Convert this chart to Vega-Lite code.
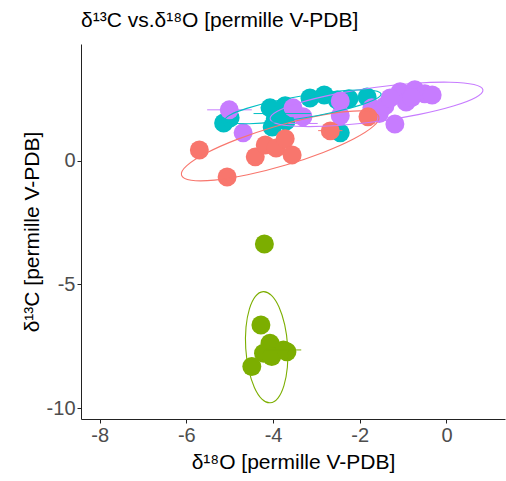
{
  "$schema": "https://vega.github.io/schema/vega-lite/v6.json",
  "autosize": "none",
  "width": 424,
  "height": 375,
  "padding": {"left": 81, "top": 44, "right": 1, "bottom": 62},
  "background": "white",
  "title": {"text": "δ¹³C vs.δ¹⁸O [permille V-PDB]", "anchor": "start", "frame": "group", "fontSize": 21, "font": "Liberation Sans", "fontWeight": "normal", "color": "black", "offset": 13},
  "config": {
    "view": {"stroke": null},
    "axis": {"grid": false, "domainColor": "#222", "tickColor": "#222", "tickSize": 4, "labelColor": "#4D4D4D", "labelFontSize": 20, "labelFont": "Liberation Sans", "titleFont": "Liberation Sans", "titleFontSize": 21, "titleFontWeight": "normal", "titleColor": "black", "labelPadding": 2}
  },
  "datasets": {
    "pts": [
      {"g": "B", "d18O": -4.20, "d13C": -3.37},
      {"g": "B", "d18O": -4.28, "d13C": -6.64},
      {"g": "B", "d18O": -4.07, "d13C": -7.38},
      {"g": "B", "d18O": -3.76, "d13C": -7.65},
      {"g": "B", "d18O": -4.22, "d13C": -7.78},
      {"g": "B", "d18O": -4.49, "d13C": -8.32},
      {"g": "B", "d18O": -4.03, "d13C": -7.92},
      {"g": "B", "d18O": -3.68, "d13C": -7.72},
      {"g": "C", "d18O": -5.14, "d13C": 1.52},
      {"g": "C", "d18O": -4.99, "d13C": 1.73},
      {"g": "C", "d18O": -4.07, "d13C": 2.13},
      {"g": "C", "d18O": -3.79, "d13C": 1.93},
      {"g": "C", "d18O": -3.72, "d13C": 2.22},
      {"g": "C", "d18O": -3.95, "d13C": 1.68},
      {"g": "C", "d18O": -4.02, "d13C": 1.36},
      {"g": "C", "d18O": -3.70, "d13C": 1.60},
      {"g": "C", "d18O": -3.15, "d13C": 2.53},
      {"g": "C", "d18O": -2.82, "d13C": 2.65},
      {"g": "C", "d18O": -2.52, "d13C": 2.45},
      {"g": "C", "d18O": -2.25, "d13C": 2.50},
      {"g": "C", "d18O": -1.83, "d13C": 2.57},
      {"g": "C", "d18O": -2.45, "d13C": 1.12},
      {"g": "D", "d18O": -5.01, "d13C": 2.05},
      {"g": "D", "d18O": -4.69, "d13C": 1.12},
      {"g": "D", "d18O": -3.54, "d13C": 2.13},
      {"g": "D", "d18O": -3.31, "d13C": 1.77},
      {"g": "D", "d18O": -2.45, "d13C": 2.41},
      {"g": "D", "d18O": -2.45, "d13C": 1.81},
      {"g": "D", "d18O": -1.72, "d13C": 2.13},
      {"g": "D", "d18O": -1.55, "d13C": 1.90},
      {"g": "D", "d18O": -1.42, "d13C": 2.21},
      {"g": "D", "d18O": -1.19, "d13C": 1.48},
      {"g": "D", "d18O": -1.07, "d13C": 2.78},
      {"g": "D", "d18O": -0.73, "d13C": 2.86},
      {"g": "D", "d18O": -0.50, "d13C": 2.70},
      {"g": "D", "d18O": -0.33, "d13C": 2.65},
      {"g": "D", "d18O": -0.93, "d13C": 2.37},
      {"g": "D", "d18O": -0.80, "d13C": 2.55},
      {"g": "D", "d18O": -1.30, "d13C": 2.53},
      {"g": "A", "d18O": -5.70, "d13C": 0.43},
      {"g": "A", "d18O": -5.06, "d13C": -0.66},
      {"g": "A", "d18O": -4.41, "d13C": 0.15},
      {"g": "A", "d18O": -4.18, "d13C": 0.63},
      {"g": "A", "d18O": -3.93, "d13C": 0.51},
      {"g": "A", "d18O": -3.72, "d13C": 0.88},
      {"g": "A", "d18O": -3.56, "d13C": 0.23},
      {"g": "A", "d18O": -2.68, "d13C": 1.20},
      {"g": "A", "d18O": -1.81, "d13C": 1.77}
    ],
    "err": [
      {"g": "D", "lo": -5.52, "hi": -4.49, "d13C": 2.05},
      {"g": "B", "lo": -4.17, "hi": -3.35, "d13C": -7.65},
      {"g": "A", "lo": -2.96, "hi": -2.40, "d13C": 1.21},
      {"g": "C", "lo": -4.45, "hi": -3.13, "d13C": 1.90},
      {"g": "D", "lo": -3.65, "hi": -2.97, "d13C": 1.50}
    ],
    "ell": [
      {"g": "A", "i": 0, "x": -1.560, "y": 1.778},
      {"g": "A", "i": 1, "x": -1.683, "y": 1.391},
      {"g": "A", "i": 2, "x": -2.134, "y": 0.883},
      {"g": "A", "i": 3, "x": -2.843, "y": 0.331},
      {"g": "A", "i": 4, "x": -3.705, "y": -0.181},
      {"g": "A", "i": 5, "x": -4.587, "y": -0.575},
      {"g": "A", "i": 6, "x": -5.352, "y": -0.791},
      {"g": "A", "i": 7, "x": -5.889, "y": -0.797},
      {"g": "A", "i": 8, "x": -6.112, "y": -0.590},
      {"g": "A", "i": 9, "x": -5.989, "y": -0.203},
      {"g": "A", "i": 10, "x": -5.538, "y": 0.305},
      {"g": "A", "i": 11, "x": -4.829, "y": 0.857},
      {"g": "A", "i": 12, "x": -3.967, "y": 1.369},
      {"g": "A", "i": 13, "x": -3.085, "y": 1.763},
      {"g": "A", "i": 14, "x": -2.320, "y": 1.979},
      {"g": "A", "i": 15, "x": -1.783, "y": 1.985},
      {"g": "D", "i": 0, "x": 0.841, "y": 2.857},
      {"g": "D", "i": 1, "x": 0.675, "y": 2.551},
      {"g": "D", "i": 2, "x": 0.159, "y": 2.204},
      {"g": "D", "i": 3, "x": -0.624, "y": 1.866},
      {"g": "D", "i": 4, "x": -1.560, "y": 1.590},
      {"g": "D", "i": 5, "x": -2.504, "y": 1.418},
      {"g": "D", "i": 6, "x": -3.311, "y": 1.376},
      {"g": "D", "i": 7, "x": -3.861, "y": 1.469},
      {"g": "D", "i": 8, "x": -4.067, "y": 1.685},
      {"g": "D", "i": 9, "x": -3.901, "y": 1.991},
      {"g": "D", "i": 10, "x": -3.385, "y": 2.338},
      {"g": "D", "i": 11, "x": -2.602, "y": 2.676},
      {"g": "D", "i": 12, "x": -1.666, "y": 2.952},
      {"g": "D", "i": 13, "x": -0.722, "y": 3.124},
      {"g": "D", "i": 14, "x": 0.085, "y": 3.166},
      {"g": "D", "i": 15, "x": 0.635, "y": 3.073},
      {"g": "C", "i": 0, "x": -1.509, "y": 2.695},
      {"g": "C", "i": 1, "x": -1.630, "y": 2.487},
      {"g": "C", "i": 2, "x": -2.006, "y": 2.231},
      {"g": "C", "i": 3, "x": -2.579, "y": 1.966},
      {"g": "C", "i": 4, "x": -3.264, "y": 1.732},
      {"g": "C", "i": 5, "x": -3.955, "y": 1.564},
      {"g": "C", "i": 6, "x": -4.546, "y": 1.489},
      {"g": "C", "i": 7, "x": -4.950, "y": 1.517},
      {"g": "C", "i": 8, "x": -5.103, "y": 1.645},
      {"g": "C", "i": 9, "x": -4.982, "y": 1.853},
      {"g": "C", "i": 10, "x": -4.606, "y": 2.109},
      {"g": "C", "i": 11, "x": -4.033, "y": 2.374},
      {"g": "C", "i": 12, "x": -3.348, "y": 2.608},
      {"g": "C", "i": 13, "x": -2.657, "y": 2.776},
      {"g": "C", "i": 14, "x": -2.066, "y": 2.851},
      {"g": "C", "i": 15, "x": -1.662, "y": 2.823},
      {"g": "B", "i": 0, "x": -4.066, "y": -9.785},
      {"g": "B", "i": 1, "x": -4.257, "y": -9.634},
      {"g": "B", "i": 2, "x": -4.431, "y": -9.164},
      {"g": "B", "i": 3, "x": -4.562, "y": -8.448},
      {"g": "B", "i": 4, "x": -4.630, "y": -7.592},
      {"g": "B", "i": 5, "x": -4.624, "y": -6.728},
      {"g": "B", "i": 6, "x": -4.545, "y": -5.988},
      {"g": "B", "i": 7, "x": -4.407, "y": -5.484},
      {"g": "B", "i": 8, "x": -4.228, "y": -5.293},
      {"g": "B", "i": 9, "x": -4.037, "y": -5.444},
      {"g": "B", "i": 10, "x": -3.863, "y": -5.914},
      {"g": "B", "i": 11, "x": -3.732, "y": -6.630},
      {"g": "B", "i": 12, "x": -3.664, "y": -7.486},
      {"g": "B", "i": 13, "x": -3.670, "y": -8.350},
      {"g": "B", "i": 14, "x": -3.749, "y": -9.090},
      {"g": "B", "i": 15, "x": -3.887, "y": -9.594}
    ]
  },
  "layer": [
    {
      "data": {"name": "pts"},
      "mark": {"type": "circle", "size": 360, "opacity": 1},
      "encoding": {
        "x": {"field": "d18O", "type": "quantitative", "scale": {"domain": [-8.43, 1.35], "nice": false, "zero": false}, "axis": {"values": [-8, -6, -4, -2, 0], "labelExpr": "toString(datum.value)", "title": "δ¹⁸O [permille V-PDB]", "titlePadding": 6}},
        "y": {"field": "d13C", "type": "quantitative", "scale": {"domain": [-10.44, 4.71], "nice": false, "zero": false}, "axis": {"values": [-10, -5, 0], "labelExpr": "toString(datum.value)", "title": "δ¹³C [permille V-PDB]", "titlePadding": 4}},
        "color": {"field": "g", "type": "nominal", "scale": {"domain": ["A", "B", "C", "D"], "range": ["#F8766D", "#7CAE00", "#00BFC4", "#C77CFF"]}, "legend": null}
      }
    },
    {
      "data": {"name": "err"},
      "mark": {"type": "rule", "strokeWidth": 1},
      "encoding": {
        "x": {"field": "lo", "type": "quantitative"},
        "x2": {"field": "hi"},
        "y": {"field": "d13C", "type": "quantitative"},
        "color": {"field": "g", "type": "nominal", "legend": null}
      }
    },
    {
      "data": {"name": "ell"},
      "mark": {"type": "line", "strokeWidth": 1.1, "interpolate": "cardinal-closed"},
      "encoding": {
        "x": {"field": "x", "type": "quantitative"},
        "y": {"field": "y", "type": "quantitative"},
        "order": {"field": "i", "type": "quantitative"},
        "detail": {"field": "g"},
        "color": {"field": "g", "type": "nominal", "legend": null}
      }
    }
  ]
}
